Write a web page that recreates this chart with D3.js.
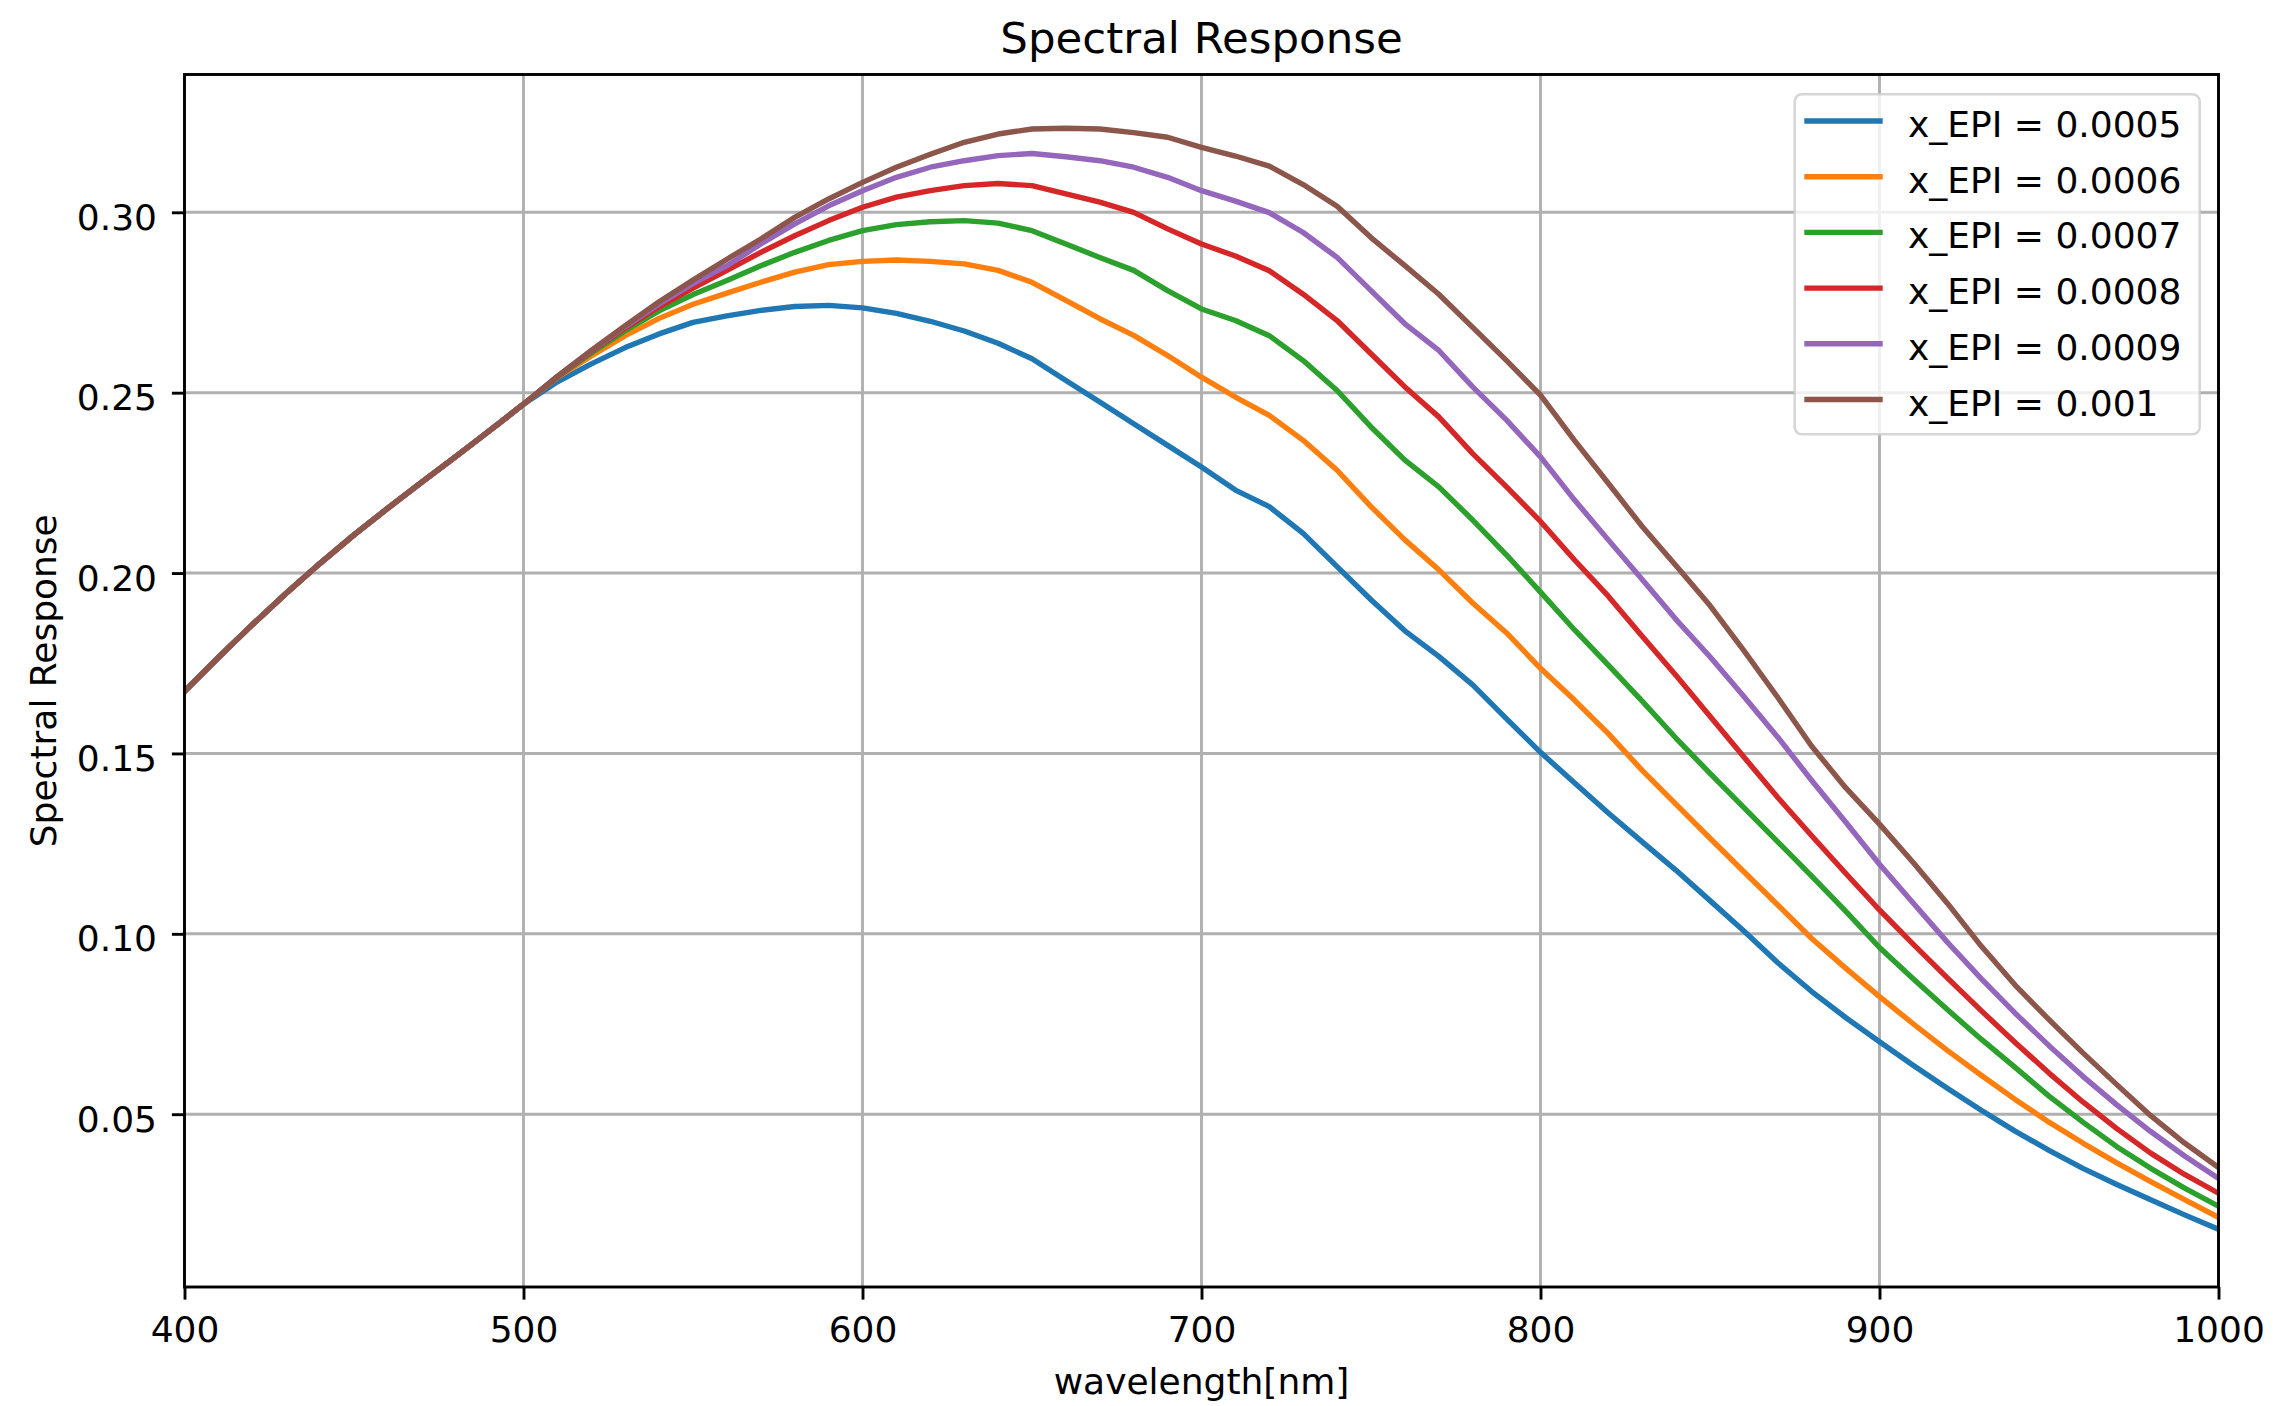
<!DOCTYPE html>
<html>
<head>
<meta charset="utf-8">
<script src="https://cdn.jsdelivr.net/npm/d3@7"></script>
<style>
body { margin: 0; background: #fff; }
svg text { font-family: "DejaVu Sans", sans-serif; fill: #000; }
</style>
</head>
<body>
<svg id="chart" width="2274" height="1406"></svg>
<script>
// wavelength samples (nm)
const wavelengths = [400, 410, 420, 430, 440, 450, 460, 470, 480, 490,
  500, 510, 520, 530, 540, 550, 560, 570, 580, 590,
  600, 610, 620, 630, 640, 650, 660, 670, 680, 690,
  700, 710, 720, 730, 740, 750, 760, 770, 780, 790,
  800, 810, 820, 830, 840, 850, 860, 870, 880, 890,
  900, 910, 920, 930, 940, 950, 960, 970, 980, 990, 1000];

// 400..500 nm, identical for every epi thickness
const common = [0.1672, 0.1766, 0.1857, 0.1944, 0.2027, 0.2106, 0.2180, 0.2252, 0.2323, 0.2395, 0.2468];

const epi0005 = common.concat([
  0.2530, 0.2580, 0.2625, 0.2663, 0.2695, 0.2713, 0.2728, 0.2739, 0.2742, 0.2735,
  0.2720, 0.2698, 0.2671, 0.2637, 0.2594, 0.2534, 0.2474, 0.2414, 0.2354, 0.2294,
  0.2230, 0.2184, 0.2110, 0.2018, 0.1926, 0.1840, 0.1769, 0.1690, 0.1596, 0.1503,
  0.1419, 0.1335, 0.1255, 0.1176, 0.1092, 0.1008, 0.0920, 0.0840, 0.0768, 0.0701,
  0.0635, 0.0572, 0.0511, 0.0453, 0.0400, 0.0350, 0.0305, 0.0263, 0.0221, 0.0181]);

const epi0006 = common.concat([
  0.2542, 0.2602, 0.2658, 0.2706, 0.2745, 0.2776, 0.2806, 0.2834, 0.2855, 0.2864,
  0.2868, 0.2864, 0.2857, 0.2839, 0.2806, 0.2756, 0.2705, 0.2659, 0.2603, 0.2543,
  0.2488, 0.2437, 0.2368, 0.2285, 0.2184, 0.2092, 0.2009, 0.1917, 0.1834, 0.1736,
  0.1648, 0.1555, 0.1453, 0.1359, 0.1265, 0.1172, 0.1080, 0.0987, 0.0905, 0.0826,
  0.0750, 0.0677, 0.0608, 0.0541, 0.0478, 0.0420, 0.0365, 0.0313, 0.0263, 0.0214]);

const epi0007 = common.concat([
  0.2543, 0.2610, 0.2672, 0.2727, 0.2772, 0.2811, 0.2852, 0.2889, 0.2922, 0.2949,
  0.2966, 0.2974, 0.2977, 0.2970, 0.2949, 0.2912, 0.2875, 0.2839, 0.2783, 0.2732,
  0.2700, 0.2658, 0.2589, 0.2506, 0.2405, 0.2313, 0.2239, 0.2147, 0.2050, 0.1947,
  0.1843, 0.1745, 0.1645, 0.1542, 0.1445, 0.1350, 0.1255, 0.1160, 0.1063, 0.0962,
  0.0875, 0.0790, 0.0708, 0.0630, 0.0550, 0.0478, 0.0410, 0.0350, 0.0295, 0.0245]);

const epi0008 = common.concat([
  0.2544, 0.2614, 0.2679, 0.2738, 0.2790, 0.2839, 0.2889, 0.2935, 0.2977, 0.3014,
  0.3042, 0.3060, 0.3074, 0.3080, 0.3074, 0.3051, 0.3028, 0.3000, 0.2954, 0.2912,
  0.2879, 0.2838, 0.2773, 0.2700, 0.2608, 0.2516, 0.2433, 0.2331, 0.2239, 0.2143,
  0.2037, 0.1936, 0.1825, 0.1716, 0.1603, 0.1490, 0.1378, 0.1272, 0.1168, 0.1066,
  0.0971, 0.0878, 0.0787, 0.0699, 0.0614, 0.0534, 0.0460, 0.0392, 0.0333, 0.0281]);

const epi0009 = common.concat([
  0.2545, 0.2616, 0.2683, 0.2746, 0.2802, 0.2852, 0.2912, 0.2968, 0.3018, 0.3060,
  0.3097, 0.3125, 0.3143, 0.3157, 0.3163, 0.3154, 0.3143, 0.3125, 0.3097, 0.3060,
  0.3031, 0.2999, 0.2944, 0.2875, 0.2783, 0.2691, 0.2617, 0.2516, 0.2424, 0.2322,
  0.2203, 0.2092, 0.1982, 0.1871, 0.1768, 0.1658, 0.1545, 0.1425, 0.1310, 0.1193,
  0.1085, 0.0977, 0.0876, 0.0780, 0.0690, 0.0605, 0.0526, 0.0452, 0.0384, 0.0322]);

const epi0010 = common.concat([
  0.2545, 0.2617, 0.2686, 0.2752, 0.2812, 0.2870, 0.2926, 0.2986, 0.3037, 0.3083,
  0.3125, 0.3161, 0.3194, 0.3217, 0.3231, 0.3233, 0.3231, 0.3221, 0.3208, 0.3180,
  0.3156, 0.3128, 0.3077, 0.3017, 0.2930, 0.2852, 0.2773, 0.2681, 0.2589, 0.2493,
  0.2368, 0.2249, 0.2129, 0.2020, 0.1910, 0.1785, 0.1655, 0.1520, 0.1405, 0.1304,
  0.1197, 0.1085, 0.0966, 0.0858, 0.0762, 0.0670, 0.0582, 0.0496, 0.0420, 0.0352]);

const seriesValues = [epi0005, epi0006, epi0007, epi0008, epi0009, epi0010];
const seriesNames = ['x_EPI = 0.0005', 'x_EPI = 0.0006', 'x_EPI = 0.0007',
  'x_EPI = 0.0008', 'x_EPI = 0.0009', 'x_EPI = 0.001'];
const seriesColors = ['#1f77b4', '#ff7f0e', '#2ca02c', '#d62728', '#9467bd', '#8c564b'];

const xTicks = [400, 500, 600, 700, 800, 900, 1000];
const xTickLabels = ['400', '500', '600', '700', '800', '900', '1000'];
const yTicks = [0.05, 0.10, 0.15, 0.20, 0.25, 0.30];
const yTickLabels = ['0.05', '0.10', '0.15', '0.20', '0.25', '0.30'];

// plot box
const plotLeft = 184.5, plotRight = 2218.5, plotTop = 74.5, plotBottom = 1287;
const fontSize = 36;

const svg = d3.select('#chart');

const x = d3.scaleLinear().domain([400, 1000]).range([plotLeft, plotRight]);
const y = d3.scaleLinear().domain([0.0021, 0.3382]).range([plotBottom, plotTop]);

svg.append('defs').append('clipPath').attr('id', 'plotclip')
  .append('rect')
  .attr('x', plotLeft).attr('y', plotTop)
  .attr('width', plotRight - plotLeft).attr('height', plotBottom - plotTop);

// grid
const grid = svg.append('g').attr('stroke', '#b0b0b0').attr('stroke-width', 2.9);
grid.selectAll('line.gx').data(xTicks).enter().append('line')
  .attr('class', 'gx')
  .attr('x1', d => x(d)).attr('x2', d => x(d))
  .attr('y1', plotTop).attr('y2', plotBottom);
grid.selectAll('line.gy').data(yTicks).enter().append('line')
  .attr('class', 'gy')
  .attr('x1', plotLeft).attr('x2', plotRight)
  .attr('y1', d => y(d)).attr('y2', d => y(d));

// curves
const line = d3.line()
  .x((d, i) => x(wavelengths[i]))
  .y(d => y(d));

svg.append('g').attr('clip-path', 'url(#plotclip)')
  .selectAll('path').data(seriesValues).enter().append('path')
  .attr('d', line)
  .attr('fill', 'none')
  .attr('stroke', (d, i) => seriesColors[i])
  .attr('stroke-width', 5.4)
  .attr('stroke-linejoin', 'round')
  .attr('stroke-linecap', 'square');

// axes
const xAxis = svg.append('g')
  .attr('transform', 'translate(0,' + plotBottom + ')')
  .call(d3.axisBottom(x).tickValues(xTicks).tickFormat((d, i) => xTickLabels[i]).tickSize(12.6));
xAxis.select('.domain').remove();
xAxis.selectAll('.tick line').attr('stroke', '#000').attr('stroke-width', 2.9);
xAxis.selectAll('.tick text')
  .attr('dy', null).attr('y', 55)
  .style('font-size', fontSize + 'px')
  .attr('fill', '#000');

const yAxis = svg.append('g')
  .attr('transform', 'translate(' + plotLeft + ',0)')
  .call(d3.axisLeft(y).tickValues(yTicks).tickFormat((d, i) => yTickLabels[i]).tickSize(12.6));
yAxis.select('.domain').remove();
yAxis.selectAll('.tick line').attr('stroke', '#000').attr('stroke-width', 2.9);
yAxis.selectAll('.tick text')
  .attr('dy', null).attr('x', -27.5).attr('y', 17)
  .style('font-size', fontSize + 'px')
  .attr('fill', '#000');

xAxis.attr('font-family', null);
yAxis.attr('font-family', null);

// frame
svg.append('rect')
  .attr('x', plotLeft).attr('y', plotTop)
  .attr('width', plotRight - plotLeft).attr('height', plotBottom - plotTop)
  .attr('fill', 'none').attr('stroke', '#000').attr('stroke-width', 2.9);

// labels
svg.append('text')
  .attr('x', (plotLeft + plotRight) / 2).attr('y', 53)
  .attr('text-anchor', 'middle')
  .style('font-size', '43.5px')
  .text('Spectral Response');

svg.append('text')
  .attr('x', (plotLeft + plotRight) / 2).attr('y', 1394)
  .attr('text-anchor', 'middle')
  .style('font-size', fontSize + 'px')
  .text('wavelength[nm]');

svg.append('text')
  .attr('transform', 'translate(56,' + ((plotTop + plotBottom) / 2) + ') rotate(-90)')
  .attr('text-anchor', 'middle')
  .style('font-size', fontSize + 'px')
  .text('Spectral Response');

// legend
const legend = svg.append('g');
legend.append('rect')
  .attr('x', 1794.7).attr('y', 94.3)
  .attr('width', 405).attr('height', 340)
  .attr('rx', 7).attr('ry', 7)
  .attr('fill', '#fff').attr('fill-opacity', 0.8)
  .attr('stroke', '#cccccc').attr('stroke-opacity', 0.8)
  .attr('stroke-width', 2.5);

const rows = legend.selectAll('g.row').data(seriesNames).enter().append('g')
  .attr('class', 'row')
  .attr('transform', (d, i) => 'translate(0,' + (121 + i * 55.7) + ')');
rows.append('line')
  .attr('x1', 1807).attr('x2', 1880)
  .attr('y1', 0).attr('y2', 0)
  .attr('stroke', (d, i) => seriesColors[i])
  .attr('stroke-width', 5.4)
  .attr('stroke-linecap', 'square');
rows.append('text')
  .attr('x', 1908).attr('y', 16)
  .style('font-size', fontSize + 'px')
  .text(d => d);
</script>
</body>
</html>
